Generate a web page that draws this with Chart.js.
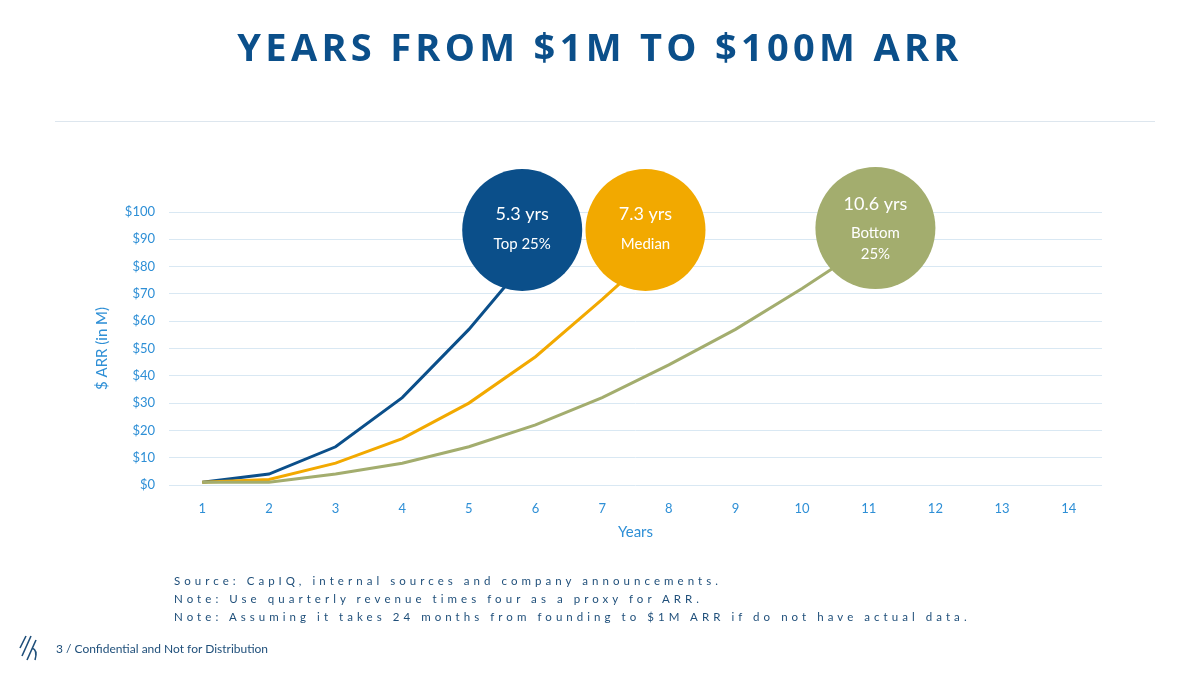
<!DOCTYPE html>
<html><head><meta charset="utf-8">
<script src="https://cdn.jsdelivr.net/npm/chart.js@4"></script>
<style>
body{margin:0;width:1200px;height:675px;background:#fff;font-family:Lato,"Open Sans",sans-serif;position:relative;overflow:hidden}
#c{position:absolute;left:0;top:0}
.t{position:absolute;left:0;width:1200px;top:20px;text-align:center;font:bold 38px "Open Sans",sans-serif;letter-spacing:4.3px;color:#0b4f8a}
.hr{position:absolute;left:55px;width:1100px;top:121px;height:1px;background:#dde6ee}
.n{position:absolute;left:174px;font-size:11.5px;letter-spacing:4.05px;color:#1f4f7a;line-height:18px}
.f{position:absolute;left:56px;top:641px;font-size:12px;color:#1f4f7a}
</style></head><body>
<canvas id="c" width="1200" height="675"></canvas>
<div class="t">YEARS FROM $1M TO $100M ARR</div>
<div class="hr"></div>
<div class="n" style="top:572px">Source: CapIQ, internal sources and company announcements.<br>Note: Use quarterly revenue times four as a proxy for ARR.<br>Note: Assuming it takes 24 months from founding to $1M ARR if do not have actual data.</div>
<svg style="position:absolute;left:18px;top:634px" width="24" height="28"><g stroke="#1f4f7a" stroke-width="1.6" fill="none"><path d="M8 2 L2 14 M13 2 L4 22 M18 6 L9 26 M14 14 Q20 16 17 26"/></g></svg>
<div class="f">3 / Confidential and Not for Distribution</div>
<script>
const years=[1,2,3,4,5,6,7,8,9,10,11];
const top25=[1,4,14,32,57,86];
const median=[1,2,8,17,30,47,68,90];
const bottom25=[1,1,4,8,14,22,32,44,57,72,88];
const yTicks=[0,10,20,30,40,50,60,70,80,90,100];
const bubbles=[
 {x:5.8,y:93.4,c:'#0b4f8a',t1:'5.3 yrs',t2:['Top 25%']},
 {x:7.65,y:93.4,c:'#f2a900',t1:'7.3 yrs',t2:['Median']},
 {x:11.1,y:94.1,c:'#a3ad6e',t1:'10.6 yrs',t2:['Bottom','25%']}
];
const pts=a=>a.map((v,i)=>({x:years[i],y:v}));
const bubblePlugin={id:'bub',afterDatasetsDraw(ch){
 const ctx=ch.ctx,xs=ch.scales.x,ys=ch.scales.y;
 bubbles.forEach(b=>{
  const cx=xs.getPixelForValue(b.x),cy=ys.getPixelForValue(b.y);
  ctx.save();ctx.beginPath();ctx.ellipse(cx,cy,60,61,0,0,Math.PI*2);ctx.fillStyle=b.c;ctx.fill();
  ctx.fillStyle='#fff';ctx.textAlign='center';ctx.textBaseline='middle';
  ctx.font='18px Lato, "Open Sans", sans-serif';
  const two=b.t2.length>1;
  ctx.fillText(b.t1,cx,cy-(two?24:16));
  ctx.font='15px Lato, "Open Sans", sans-serif';
  b.t2.forEach((s,i)=>ctx.fillText(s,cx,cy+(two?5+i*21:14)));
  ctx.restore();});
}};
const ds=(d,c)=>({data:pts(d),borderColor:c,borderWidth:3,pointRadius:0,tension:0,clip:false});
new Chart(document.getElementById('c'),{type:'line',
 data:{datasets:[ds(bottom25,'#a3ad6e'),ds(median,'#f2a900'),ds(top25,'#0b4f8a')]},
 options:{responsive:false,animation:false,
  layout:{padding:{left:89,right:98,top:212,bottom:130}},
  plugins:{legend:{display:false},tooltip:{enabled:false}},
  scales:{
   x:{type:'linear',min:0.5,max:14.5,afterBuildTicks:s=>{s.ticks=[1,2,3,4,5,6,7,8,9,10,11,12,13,14].map(v=>({value:v}))},
    afterFit:s=>{s.height=60},
    grid:{display:false},border:{display:false},
    ticks:{color:'#2e8fd6',font:{size:13,family:'Lato'},padding:8},
    title:{display:true,text:'Years',color:'#2e8fd6',font:{size:15,family:'Lato'},padding:{top:4}}},
   y:{min:0,max:100,afterBuildTicks:s=>{s.ticks=yTicks.map(v=>({value:v}))},
    afterFit:s=>{s.width=80},
    grid:{color:'#d9e8f3',drawTicks:false},border:{display:false},
    ticks:{color:'#2e8fd6',font:{size:13,family:'Lato'},padding:14,callback:v=>'$'+v},
    title:{display:true,text:'$ ARR (in M)',color:'#2e8fd6',font:{size:15,family:'Lato'},padding:{bottom:0}}}
  }},
 plugins:[bubblePlugin]});
</script></body></html>
